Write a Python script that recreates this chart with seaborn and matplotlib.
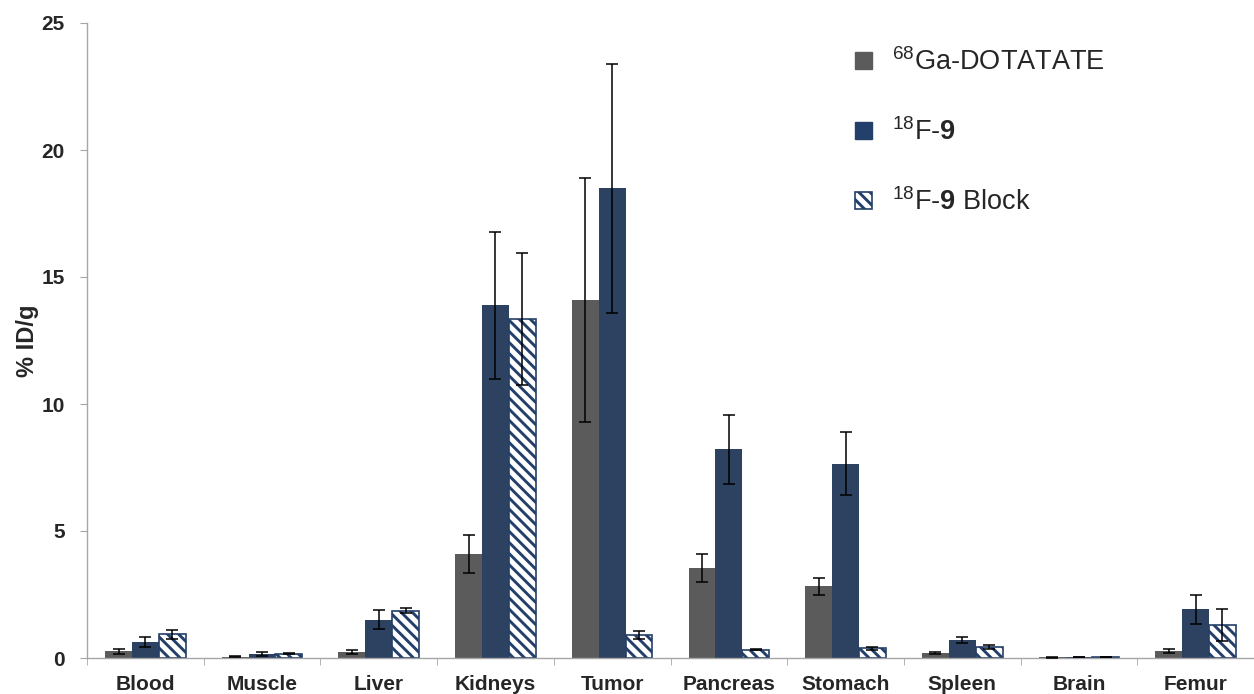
import numpy as np
import pandas as pd
import matplotlib
matplotlib.use("Agg")
import matplotlib.pyplot as plt
from matplotlib.patches import Patch
import seaborn as sns

# ── Data ──
organs = ["Blood", "Muscle", "Liver", "Kidneys", "Tumor",
          "Pancreas", "Stomach", "Spleen", "Brain", "Femur"]
tracers = ["68Ga-DOTATATE", "18F-9", "18F-9 Block"]
tracer_labels = [r"$^{68}$Ga-DOTATATE", r"$^{18}$F-$\mathbf{9}$", r"$^{18}$F-$\mathbf{9}$ Block"]

ga_mean  = [0.26, 0.05, 0.24, 4.09, 14.09, 3.55, 2.82, 0.20, 0.02, 0.28]
ga_err   = [0.09, 0.02, 0.08, 0.75, 4.80, 0.55, 0.33, 0.05, 0.01, 0.07]
f9_mean  = [0.63, 0.16, 1.51, 13.88, 18.50, 8.22, 7.65, 0.71, 0.04, 1.92]
f9_err   = [0.18, 0.08, 0.37, 2.90, 4.90, 1.35, 1.23, 0.13, 0.01, 0.58]
blk_mean = [0.94, 0.17, 1.86, 13.36, 0.90, 0.33, 0.38, 0.42, 0.04, 1.30]
blk_err  = [0.18, 0.03, 0.10, 2.60, 0.16, 0.03, 0.05, 0.08, 0.01, 0.62]

GRAY = "#5b5b5b"
NAVY = "#243f69"
HATCH = "\\\\\\"

df = pd.DataFrame({
    "organ": organs * 3,
    "tracer": np.repeat(tracers, len(organs)),
    "value": ga_mean + f9_mean + blk_mean,
})
errors = [ga_err, f9_err, blk_err]

# ── Style ──
sns.set_style("white")
plt.rcParams["font.family"] = ["Liberation Sans", "DejaVu Sans"]
plt.rcParams["mathtext.fontset"] = "custom"
plt.rcParams["mathtext.rm"] = "Liberation Sans"
plt.rcParams["mathtext.bf"] = "Liberation Sans:bold"
plt.rcParams["hatch.linewidth"] = 2.1
plt.rcParams["hatch.color"] = NAVY

fig = plt.figure(figsize=(12.54, 6.94), dpi=100)
ax = fig.add_axes([87 / 1254, 36 / 694, 1 - 87 / 1254, (658 - 23) / 694])

sns.barplot(data=df, x="organ", y="value", hue="tracer", hue_order=tracers,
            palette=[GRAY, NAVY, "white"], width=0.69, errorbar=None,
            legend=False, linewidth=0, ax=ax)

# hatch the blocking series and add error bars
bar_containers = list(ax.containers)
for i, cont in enumerate(bar_containers):
    xs, ys = [], []
    for bar in cont:
        if i == 2:
            bar.set_hatch(HATCH)
            bar.set_edgecolor(NAVY)
            bar.set_linewidth(1.2)
        xs.append(bar.get_x() + bar.get_width() / 2)
        ys.append(bar.get_height())
    ax.errorbar(xs, ys, yerr=errors[i], fmt="none", ecolor="black",
                elinewidth=1.1, capsize=4, capthick=1.1, zorder=5)

# ── Axes ──
ax.set_xlim(-0.5, len(organs) - 0.5)
ax.set_ylim(0, 25)
ax.set_yticks([0, 5, 10, 15, 20, 25])
ax.set_xlabel("")
ax.set_ylabel("% ID/g", fontsize=17, fontweight="bold", labelpad=2)
for side in ["top", "right"]:
    ax.spines[side].set_visible(False)
for side in ["left", "bottom"]:
    ax.spines[side].set_color("#a6a6a6")
    ax.spines[side].set_linewidth(1.0)

ax.set_xticks(np.arange(-0.5, len(organs), 1.0), minor=True)
ax.tick_params(axis="x", which="major", length=0, pad=12)
ax.tick_params(axis="x", which="minor", length=5, color="#a6a6a6", direction="out", bottom=True)
ax.tick_params(axis="y", which="major", length=5, color="#a6a6a6", direction="out", left=True, pad=11)
for lab in ax.get_xticklabels() + ax.get_yticklabels():
    lab.set_fontsize(15)
    lab.set_fontweight("bold")

# ── Legend ──
handles = [Patch(facecolor=GRAY, edgecolor=GRAY),
           Patch(facecolor=NAVY, edgecolor=NAVY),
           Patch(facecolor="white", edgecolor=NAVY, hatch=HATCH, linewidth=1.2)]
ax.legend(handles, tracer_labels, loc="upper left", bbox_to_anchor=(831 / 1254, 1 - 24 / 694),
          bbox_transform=fig.transFigure, frameon=False, fontsize=19.5,
          handlelength=0.6, handleheight=0.6, handletextpad=0.75, labelspacing=1.55)

fig.savefig("out.png", dpi=100)
